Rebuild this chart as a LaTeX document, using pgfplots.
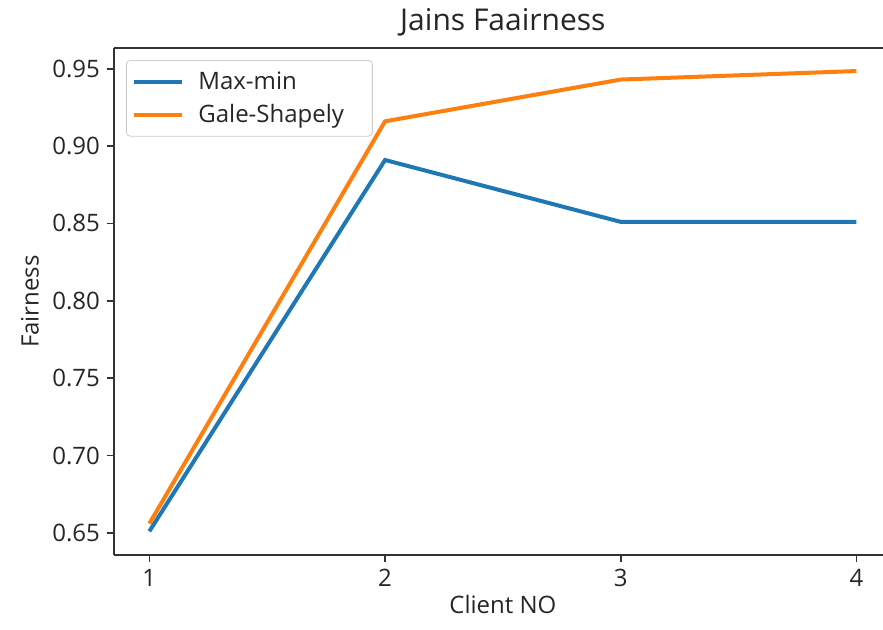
\documentclass[border=0pt]{standalone}
\usepackage{pgfplots}
\pgfplotsset{compat=1.18}
\usepackage{fontspec}
\setmainfont{Open Sans}
\definecolor{mplblue}{HTML}{1F77B4}
\definecolor{mplorange}{HTML}{FF7F0E}
\definecolor{mplaxis}{HTML}{333333}
\begin{document}
\begin{tikzpicture}
\path[use as bounding box] (-57pt,-37.5pt) rectangle (384.5pt,277.5pt);
\begin{axis}[
  scale only axis,
  width=388.9pt, height=253.5pt,
  xmin=0.85, xmax=4.15,
  ymin=0.6357, ymax=0.9634,
  axis x line*=bottom, axis y line*=left,
  xtick={1,2,3,4},
  ytick={0.65,0.70,0.75,0.80,0.85,0.90,0.95},
  yticklabel style={/pgf/number format/fixed, /pgf/number format/fixed zerofill, /pgf/number format/precision=2},
  /pgf/number format/assume math mode=true,
  tick align=outside,
  major tick length=3.5pt,
  xtick pos=bottom, ytick pos=left,
  axis line style={mplaxis, line width=0.8pt},
  every tick/.style={mplaxis, line width=0.8pt},
  tick label style={font=\fontsize{12}{14}\selectfont, text=black!85},
  every axis title shift=0pt,
  title={Jains Faairness},
  title style={at={(axis description cs:0.5,1.0513)}, anchor=center, font=\fontsize{15}{18}\selectfont, text=black!85},
  xlabel={Client NO},
  xlabel style={at={(axis description cs:0.5,-0.0986)}, anchor=center, font=\fontsize{12}{14}\selectfont, text=black!85},
  ylabel={Fairness},
  ylabel style={at={(axis description cs:-0.108,0.5)}, anchor=center, font=\fontsize{12}{14}\selectfont, text=black!85},
  legend style={at={(axis description cs:0.0154,0.9763)}, anchor=north west,
    draw=black!20, rounded corners=2pt, fill=white, font=\fontsize{12}{14}\selectfont,
    inner xsep=3pt, inner ysep=3.5pt, row sep=2pt, column sep=5pt, text=black!85},
  legend cell align=left,
  legend image code/.code={\draw[#1] (0pt,0pt) -- (24pt,0pt);},
  after end axis/.code={\draw[mplaxis, line width=0.8pt] (axis description cs:0,1) -- (axis description cs:1,1);},
]
\addplot[mplblue, line width=2pt] coordinates {(1,0.651) (2,0.891) (3,0.851) (4,0.851)};
\addlegendentry{Max-min}
\addplot[mplorange, line width=2pt] coordinates {(1,0.656) (2,0.916) (3,0.943) (4,0.9485)};
\addlegendentry{\makebox[82pt][l]{Gale-Shapely}}
\end{axis}
\end{tikzpicture}
\end{document}
